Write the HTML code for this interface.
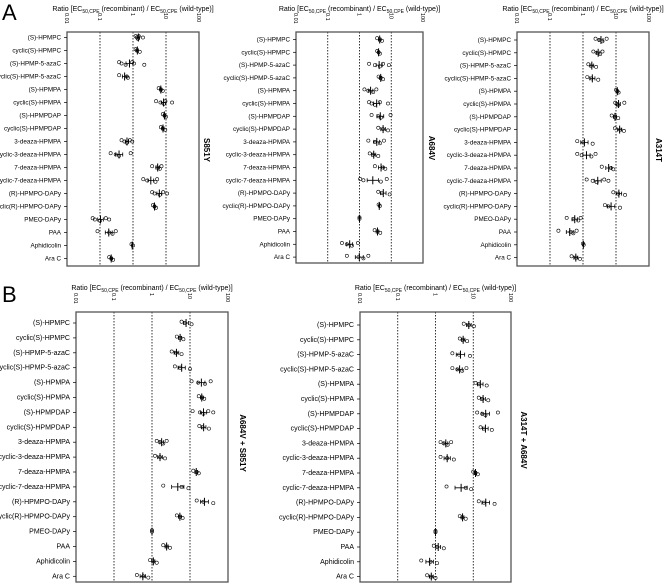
<!DOCTYPE html>
<html><head><meta charset="utf-8"><style>
html,body{margin:0;padding:0;background:#fff}
svg{display:block}
text{font-family:"Liberation Sans",sans-serif;fill:#000}
</style></head><body>
<svg id="fig" width="664" height="584" viewBox="0 0 664 584" xmlns="http://www.w3.org/2000/svg">
<text x="2" y="20" font-size="22">A</text>
<text x="2" y="302" font-size="22">B</text>
</svg>
<script>
const compounds = ["(S)-HPMPC","cyclic(S)-HPMPC","(S)-HPMP-5-azaC","cyclic(S)-HPMP-5-azaC","(S)-HPMPA","cyclic(S)-HPMPA","(S)-HPMPDAP","cyclic(S)-HPMPDAP","3-deaza-HPMPA","cyclic-3-deaza-HPMPA","7-deaza-HPMPA","cyclic-7-deaza-HPMPA","(R)-HPMPO-DAPy","cyclic(R)-HPMPO-DAPy","PMEO-DAPy","PAA","Aphidicolin","Ara C"];
const tickValues = [0.01,0.1,1,10,100];
const tickLabels = ["0.01","0.1","1","10","100"];
const mutants = ["S851Y","A684V","A314T","A684V + S851Y","A314T + A684V"];
const valuesS851Y = [[1.2,1.3,1.4,1.5,2.0],[1.2,1.3,1.6],[0.38,0.45,0.6,0.95,1.07,2.2],[0.38,0.65,0.7],[6,7,8],[5,6.8,8.6,9.6,15.3],[8,9,10],[7,8,9.5],[0.45,0.55,0.65,0.8,0.95],[0.21,0.3,0.38,0.85],[3.8,5.4,6.5,7.3],[2.05,2.7,4.8,5.4],[3.8,4.5,6.5,8.2,10.8],[4,4.5,5],[0.06,0.07,0.1,0.15,0.19],[0.084,0.19,0.24,0.3],[0.9,1.0],[0.19,0.22,0.25]];
const valuesA684V = [[3.6,4.4,5.1],[3.6,4.0,4.4],[2.0,3.05,4.4,5.5,8.4],[4.0,4.6,5.5],[1.43,1.9,2.7,3.4],[2.0,2.4,3.05,4.4,7.9],[2.4,3.9,4.7,9.5],[3.9,5.5,7.9],[1.9,3.05,4.4,5.9],[2.1,2.7,3.9],[3.05,5.5,6.5],[1.05,1.33,4.7,7.2],[3.9,5.1,8.9],[4.0,4.4],[1,1],[3.0,3.7,4.5],[0.28,0.4,0.58,0.89],[0.4,0.93,1.33,1.9]];
const valuesA314T = [[2.4,3.1,3.9,5.2],[2.06,2.6,3.3,3.9],[1.45,1.75,2.5],[1.35,1.8,2.9],[10,11,12],[9.5,10.5,11.5,17.9],[7.4,9.3,11.7],[9.3,13.2,17.4],[0.67,1.02,1.96],[0.67,0.91,1.8,2.4],[3.7,7.0,8.3],[1.29,1.96,2.6,4.4,5.9],[8.3,11.7,18.8],[4.6,5.9,13.2],[0.32,0.51,0.72,0.85],[0.18,0.42,0.51,0.64],[1.0,1.05],[0.45,0.61,0.81]];
const valuesA684VS851Y = [[6.0,7.4,11],[4.5,5.5,6.7],[3.3,4.3,6.0],[4.0,5.5,10],[11,16.5,24.8,35],[17,21,23.7],[11.7,18.3,22.5,30.3,41],[17.6,21.5,31.5],[1.33,1.62,1.98,2.43],[1.2,1.62,2.2],[12.2,15,17],[1.98,6,9.1],[15,22.5,41],[4.5,5.5,6.4],[1,1],[1.98,2.43,2.97],[0.89,1.08,1.33],[0.4,0.59,0.8]];
const valuesA314TA684V = [[5.6,7.6,10.4],[4.4,5.2,6.9],[2.8,4.2,8.2],[2.8,3.8,5.1,6.6],[11.5,14,22.7],[14,17.3,25],[12.7,17.3,21,45],[15.6,19.2,31],[1.36,1.66,2.1,2.6],[1.36,2.04,3.06],[10,11.5,13.2],[1.96,6.3,8.8],[14,19.2,36.7],[4.4,5.1,6.3],[1,1],[0.9,1.1,1.66],[0.42,0.74,1.1],[0.6,0.77,1.0]];

const panelData=[valuesS851Y,valuesA684V,valuesA314T,valuesA684VS851Y,valuesA314TA684V];
const layouts=[
 {x0:67,x1:199,top:32,bottom:266,r0:37.5,step:13.0,fs:6.3,side:207,sideY:150,ty:11},
 {x0:296,x1:423,top:32,bottom:263,r0:39.5,step:12.8,fs:6.3,side:432,sideY:148,ty:11},
 {x0:517,x1:649,top:32,bottom:266,r0:40,step:12.8,fs:6.3,side:659,sideY:150,ty:11},
 {x0:76,x1:228,top:312,bottom:582,r0:323,step:14.9,fs:7,side:243,sideY:443,ty:290},
 {x0:360,x1:511,top:312,bottom:582,r0:325,step:14.8,fs:7,side:524,sideY:440,ty:290}
];
const NS="http://www.w3.org/2000/svg";
const svg=document.getElementById('fig');
function mk(tag,attrs,parent){const e=document.createElementNS(NS,tag);for(const k in attrs)e.setAttribute(k,attrs[k]);(parent||svg).appendChild(e);return e;}
const lg=v=>Math.log10(v);
panelData.forEach((vals,pi)=>{
  const L=layouts[pi];
  const g=mk('g',{});
  
  
  const xs=v=>L.x0+(lg(v)+2)/4*(L.x1-L.x0);
  const ys=i=>L.r0+i*L.step;
  // title
  const t=mk('text',{x:(L.x0+L.x1)/2,y:L.ty,'font-size':7,'text-anchor':'middle'},g);
  
  
  t.innerHTML='Ratio [EC<tspan font-size="5" dy="2">50,CPE</tspan><tspan dy="-2"> (recombinant) / EC</tspan><tspan font-size="5" dy="2">50,CPE</tspan><tspan dy="-2"> (wild-type)]</tspan>';
  // gridlines
  tickValues.forEach((tv,k)=>{
    const x=xs(tv);
    if(k>0&&k<4){const gl=mk('line',{x1:x,x2:x,y1:L.top,y2:L.bottom,stroke:'#000','stroke-width':0.8,'stroke-dasharray':'1.5,1.5'},g);
      
      }
    const tl=mk('text',{x:0,y:0,'font-size':5.5,'text-anchor':'end',transform:`translate(${x+2},${L.top-3}) rotate(90)`},g);
    
    
    tl.setAttribute('transform',`translate(${x-2},${L.top-3}) rotate(90) translate(0,0)`);
    tl.setAttribute('text-anchor','start');
    tl.setAttribute('x',-16);
    tl.textContent=tickLabels[k];
  });
  const box=mk('rect',{x:L.x0,y:L.top,width:L.x1-L.x0,height:L.bottom-L.top,fill:'none',stroke:'#555','stroke-width':1.3},g);
  
  
  // side label
  const sl=mk('text',{x:0,y:0,'font-size':8,'font-weight':'bold','text-anchor':'middle',transform:`translate(${L.side-3},${L.sideY}) rotate(90)`},g);
  
  
  sl.textContent=mutants[pi];
  compounds.forEach((c,i)=>{
    const y=ys(i);
    const lb=mk('text',{x:L.x0-6,y:y+2,'font-size':L.fs,'text-anchor':'end'},g);
    
    
    lb.textContent=c;
    mk('line',{x1:L.x0-3,x2:L.x0,y1:y,y2:y,stroke:'#000','stroke-width':0.7},g);
    const pts=vals[i];
    const logs=pts.map(lg);
    const m=logs.reduce((a,b)=>a+b,0)/logs.length;
    const sd=Math.sqrt(logs.reduce((a,b)=>a+(b-m)*(b-m),0)/logs.length)/Math.sqrt(logs.length);
    const xm=xs(Math.pow(10,m)), xl=xs(Math.pow(10,m-sd)), xr=xs(Math.pow(10,m+sd));
    pts.forEach((v,k)=>{
      const p=mk('circle',{cx:xs(v),cy:y+((k%3)-1)*1.3,r:1.6,fill:'none',stroke:'#000','stroke-width':0.6},g);
      
      
    });
    const mb=mk('line',{x1:xm,x2:xm,y1:y-4,y2:y+4,stroke:'#000','stroke-width':1},g);
    
    
    const eb=mk('path',{d:`M${xl},${y}H${xr}M${xl},${y-2}V${y+2}M${xr},${y-2}V${y+2}`,stroke:'#000','stroke-width':0.8,fill:'none'},g);
    
    
  });
});
</script>
</body></html>
